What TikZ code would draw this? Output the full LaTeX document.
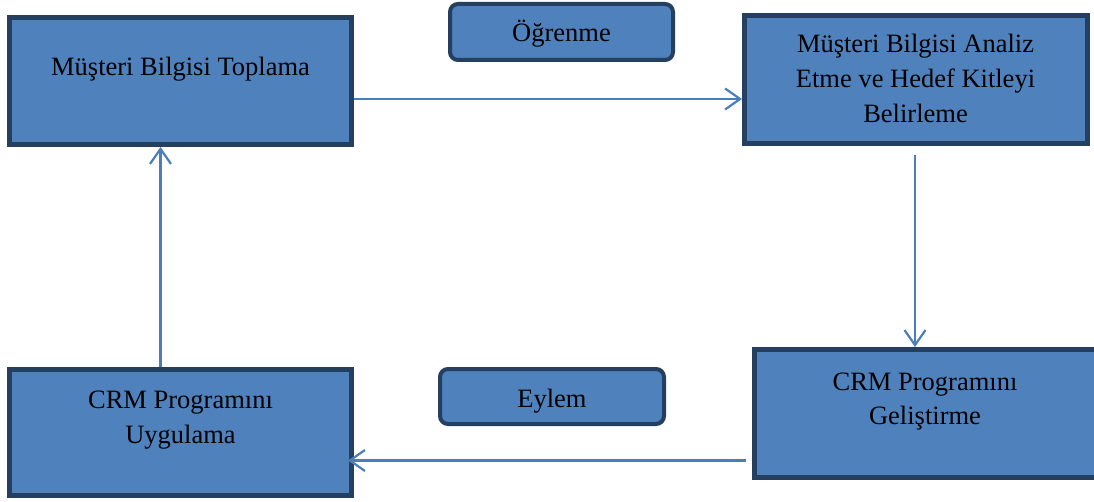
\documentclass[tikz,border=0pt]{standalone}
\usepackage{fontspec}
\setmainfont{Liberation Serif}
\usetikzlibrary{arrows.meta}
\definecolor{boxfill}{HTML}{4F81BD}
\definecolor{boxline}{HTML}{243F60}
\definecolor{arrcol}{HTML}{4A7EBB}
\tikzset{
  bigbox/.style={draw=boxline, fill=boxfill, line width=5pt, rectangle, inner sep=0pt},
  tagbox/.style={draw=boxline, fill=boxfill, line width=4pt, rectangle, rounded corners=8pt, inner sep=0pt},
  txt/.style={anchor=base, inner sep=0pt, font=\fontsize{26.5}{35}\selectfont},
  arr/.style={draw=arrcol, line width=2.2pt, -{Straight Barb[length=15pt,width=21pt,line width=2.2pt]}}
}
\begin{document}
\begin{tikzpicture}[x=1pt,y=-1pt]
\useasboundingbox (0,0) rectangle (1094,502);
\fill[white] (0,0) rectangle (1094,502);
% boxes
\node[bigbox, minimum width=342pt, minimum height=127pt] (b1) at (180.5,81) {};
\node[bigbox, minimum width=343pt, minimum height=128pt] (b2) at (916,79.5) {};
\node[bigbox, minimum width=353pt, minimum height=128pt] (b3) at (931,413.5) {};
\node[bigbox, minimum width=342pt, minimum height=126pt] (b4) at (180.5,432.5) {};
\node[tagbox, minimum width=223pt, minimum height=56pt] (ogr) at (561.5,32) {};
\node[tagbox, minimum width=224pt, minimum height=55pt] (eyl) at (552,396.5) {};
% texts
\node[txt] (t1) at (180.5,76) {Müşteri Bilgisi Toplama};
\node[txt] (t2a) at (915.5,53) {Müşteri Bilgisi Analiz};
\node[txt] (t2b) at (915.5,88) {Etme ve Hedef Kitleyi};
\node[txt] (t2c) at (915.5,123) {Belirleme};
\node[txt] (t3a) at (925,390) {CRM Programını};
\node[txt] (t3b) at (925,424) {Geliştirme};
\node[txt] (t4a) at (180.5,408) {CRM Programını};
\node[txt] (t4b) at (180.5,443) {Uygulama};
\node[txt] (to) at (561.5,42) {Öğrenme};
\node[txt] (te) at (552,407) {Eylem};
% connectors
\draw[arr] ([yshift=-18pt]b1.east) -- ([yshift=-18pt]b1.east -| b2.west);
\draw[arr] ([yshift=-9pt,xshift=-1pt]b2.south) -- ([xshift=-1pt]b2.south |- b3.north);
\draw[arr] ([yshift=-47pt,xshift=-6pt]b3.west) -- ([yshift=-47pt,xshift=-6pt]b3.west -| b4.east);
\draw[arr] ([xshift=-20pt]b4.north) -- ([xshift=-20pt]b4.north |- b1.south);
\end{tikzpicture}
\end{document}
